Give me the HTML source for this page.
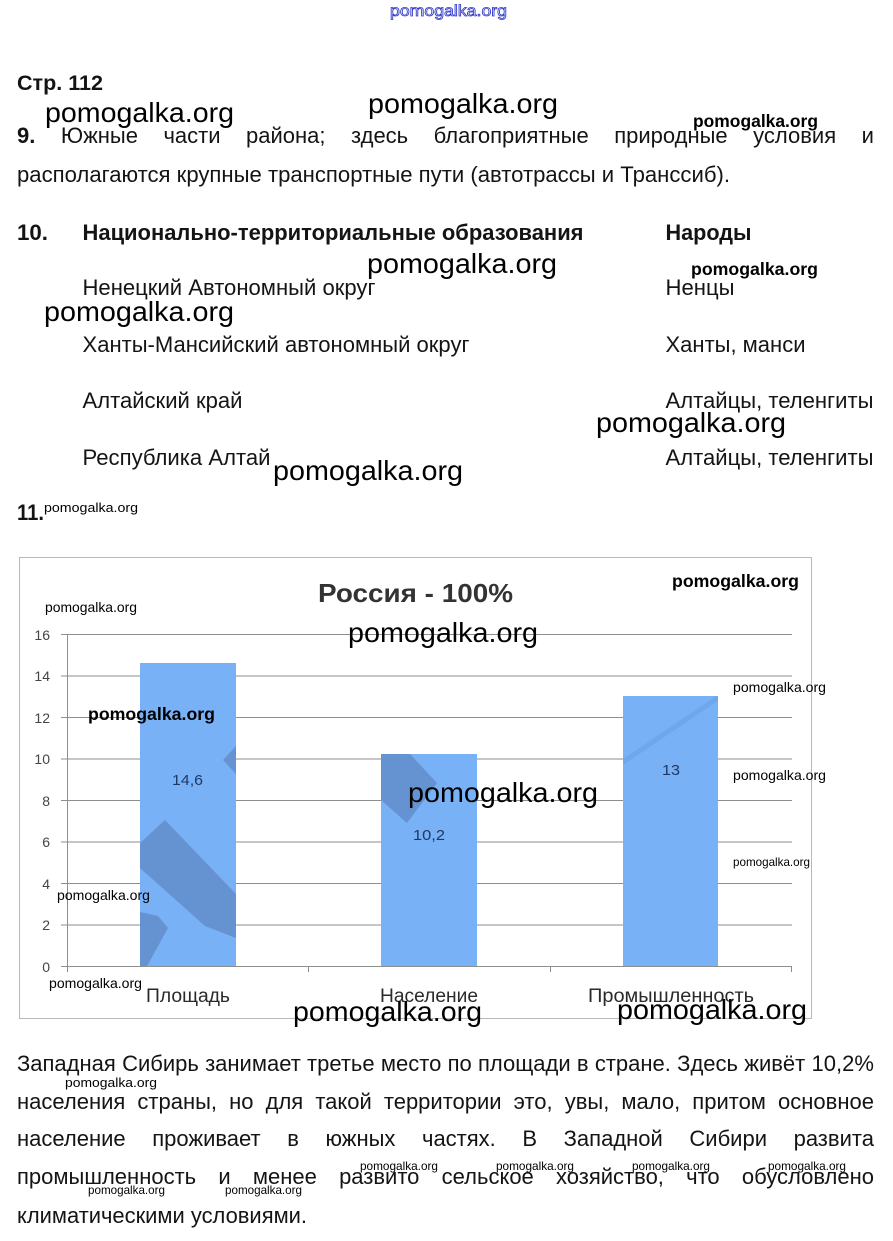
<!DOCTYPE html>
<html>
<head>
<meta charset="utf-8">
<style>
  html,body{margin:0;padding:0;background:#fff;}
  body{width:893px;height:1241px;position:relative;overflow:hidden;
       font-family:"Liberation Sans","DejaVu Sans",sans-serif;color:#141414;}
  svg{position:absolute;left:0;top:0;}
  .j{position:absolute;left:17px;width:857px;height:22px;line-height:22px;font-size:22px;
     display:flex;justify-content:space-between;white-space:nowrap;color:#141414;}
  .j b{font-weight:bold;}
</style>
</head>
<body>
<svg width="893" height="1241" viewBox="0 0 893 1241" xmlns="http://www.w3.org/2000/svg" font-family="Liberation Sans, DejaVu Sans, sans-serif">
  <!-- top blue watermark -->
  <text x="390" y="16" font-size="16" fill="none" stroke="#2c36c8" stroke-width="0.8" textLength="117" lengthAdjust="spacingAndGlyphs">pomogalka.org</text>

  <!-- Header -->
  <text x="17" y="90" font-size="21" font-weight="bold" fill="#141414" textLength="86" lengthAdjust="spacingAndGlyphs">Стр. 112</text>

  <!-- Section 9 line 2 -->
  <text x="17" y="182" font-size="22" fill="#141414" textLength="713" lengthAdjust="spacingAndGlyphs">располагаются крупные транспортные пути (автотрассы и Транссиб).</text>

  <!-- Section 10 -->
  <text x="17" y="240" font-size="22" font-weight="bold" fill="#141414" textLength="31" lengthAdjust="spacingAndGlyphs">10.</text>
  <text x="82.5" y="240" font-size="22" font-weight="bold" fill="#141414" textLength="501" lengthAdjust="spacingAndGlyphs">Национально-территориальные образования</text>
  <text x="665.5" y="240" font-size="22" font-weight="bold" fill="#141414" textLength="86" lengthAdjust="spacingAndGlyphs">Народы</text>

  <text x="82.5" y="295" font-size="22" fill="#141414" textLength="293" lengthAdjust="spacingAndGlyphs">Ненецкий Автономный округ</text>
  <text x="665.5" y="295" font-size="22" fill="#141414" textLength="69" lengthAdjust="spacingAndGlyphs">Ненцы</text>

  <text x="82.5" y="352" font-size="22" fill="#141414" textLength="387" lengthAdjust="spacingAndGlyphs">Ханты-Мансийский автономный округ</text>
  <text x="665.5" y="352" font-size="22" fill="#141414" textLength="140" lengthAdjust="spacingAndGlyphs">Ханты, манси</text>

  <text x="82.5" y="408" font-size="22" fill="#141414" textLength="160" lengthAdjust="spacingAndGlyphs">Алтайский край</text>
  <text x="665.5" y="408" font-size="22" fill="#141414" textLength="208" lengthAdjust="spacingAndGlyphs">Алтайцы, теленгиты</text>

  <text x="82.5" y="465" font-size="22" fill="#141414" textLength="188" lengthAdjust="spacingAndGlyphs">Республика Алтай</text>
  <text x="665.5" y="465" font-size="22" fill="#141414" textLength="208" lengthAdjust="spacingAndGlyphs">Алтайцы, теленгиты</text>

  <text x="17" y="520" font-size="22" font-weight="bold" fill="#141414" textLength="27" lengthAdjust="spacingAndGlyphs">11.</text>

  <!-- Watermarks top part -->
  <g fill="#000">
    <text x="45" y="122" font-size="28" textLength="189" lengthAdjust="spacingAndGlyphs">pomogalka.org</text>
    <text x="368" y="113" font-size="28" textLength="190" lengthAdjust="spacingAndGlyphs">pomogalka.org</text>
    <text x="693" y="127" font-size="17.5" font-weight="bold" textLength="125" lengthAdjust="spacingAndGlyphs">pomogalka.org</text>
    <text x="367" y="273" font-size="28" textLength="190" lengthAdjust="spacingAndGlyphs">pomogalka.org</text>
    <text x="691" y="275" font-size="17.5" font-weight="bold" textLength="127" lengthAdjust="spacingAndGlyphs">pomogalka.org</text>
    <text x="44" y="321" font-size="28" textLength="190" lengthAdjust="spacingAndGlyphs">pomogalka.org</text>
    <text x="596" y="432" font-size="28" textLength="190" lengthAdjust="spacingAndGlyphs">pomogalka.org</text>
    <text x="273" y="480" font-size="28" textLength="190" lengthAdjust="spacingAndGlyphs">pomogalka.org</text>
    <text x="44" y="512" font-size="13" textLength="94" lengthAdjust="spacingAndGlyphs">pomogalka.org</text>
  </g>

  <!-- Chart -->
  <rect x="19.5" y="557.5" width="792" height="461" fill="#fff" stroke="#b8b8b8" stroke-width="1"/>
  <g stroke="#8e8e8e" stroke-width="1">
    <line x1="61" y1="634.5" x2="792" y2="634.5"/>
    <line x1="61" y1="676" x2="792" y2="676"/>
    <line x1="61" y1="717.5" x2="792" y2="717.5"/>
    <line x1="61" y1="759" x2="792" y2="759"/>
    <line x1="61" y1="800.5" x2="792" y2="800.5"/>
    <line x1="61" y1="842" x2="792" y2="842"/>
    <line x1="61" y1="883.5" x2="792" y2="883.5"/>
    <line x1="61" y1="925" x2="792" y2="925"/>
    <line x1="61" y1="966.5" x2="792" y2="966.5"/>
    <line x1="67.5" y1="634" x2="67.5" y2="972"/>
    <line x1="308.5" y1="966" x2="308.5" y2="972"/>
    <line x1="550.5" y1="966" x2="550.5" y2="972"/>
    <line x1="791.5" y1="966" x2="791.5" y2="972"/>
  </g>
  <g font-size="14" fill="#444" text-anchor="end">
    <text x="50" y="640">16</text>
    <text x="50" y="681">14</text>
    <text x="50" y="723">12</text>
    <text x="50" y="764">10</text>
    <text x="50" y="806">8</text>
    <text x="50" y="847">6</text>
    <text x="50" y="889">4</text>
    <text x="50" y="930">2</text>
    <text x="50" y="972">0</text>
  </g>

  <!-- Bars -->
  <defs>
    <clipPath id="c1"><rect x="140" y="663" width="96" height="303"/></clipPath>
    <clipPath id="c2"><rect x="381" y="754" width="96" height="212"/></clipPath>
    <clipPath id="c3"><rect x="623" y="696" width="95" height="270"/></clipPath>
  </defs>
  <rect x="140" y="663" width="96" height="303" fill="#79b1f6"/>
  <rect x="381" y="754" width="96" height="212" fill="#79b1f6"/>
  <rect x="623" y="696" width="95" height="270" fill="#79b1f6"/>
  <g clip-path="url(#c1)" fill="#6592d0">
    <polygon points="236,746 223,760 236,774"/>
    <polygon points="140,843 165,820 236,894 236,938 205,926 140,868"/>
    <polygon points="140,912 158,916 168,928 146,968 140,968"/>
  </g>
  <g clip-path="url(#c2)" fill="#6592d0">
    <polygon points="381,754 410,754 437,783 407,823 381,800"/>
  </g>
  <g clip-path="url(#c3)">
    <line x1="623" y1="762" x2="719" y2="697" stroke="#6a9fe4" stroke-width="5" stroke-opacity="0.6"/>
  </g>

  <!-- Data labels -->
  <g font-size="15" fill="#1f3864">
    <text x="172" y="785" textLength="31" lengthAdjust="spacingAndGlyphs">14,6</text>
    <text x="413" y="840" textLength="32" lengthAdjust="spacingAndGlyphs">10,2</text>
    <text x="662" y="775" textLength="18" lengthAdjust="spacingAndGlyphs">13</text>
  </g>

  <!-- Category labels -->
  <g font-size="19" fill="#2a2a2a">
    <text x="146" y="1002" textLength="84" lengthAdjust="spacingAndGlyphs">Площадь</text>
    <text x="380" y="1002" textLength="98" lengthAdjust="spacingAndGlyphs">Население</text>
    <text x="588" y="1002" textLength="166" lengthAdjust="spacingAndGlyphs">Промышленность</text>
  </g>

  <!-- Title -->
  <text x="318" y="602" font-size="26" font-weight="bold" fill="#333" textLength="195" lengthAdjust="spacingAndGlyphs">Россия - 100%</text>

  <!-- Chart watermarks -->
  <g fill="#000">
    <text x="45" y="612" font-size="14" textLength="92" lengthAdjust="spacingAndGlyphs">pomogalka.org</text>
    <text x="672" y="587" font-size="17.5" font-weight="bold" textLength="127" lengthAdjust="spacingAndGlyphs">pomogalka.org</text>
    <text x="348" y="642" font-size="28" textLength="190" lengthAdjust="spacingAndGlyphs">pomogalka.org</text>
    <text x="88" y="720" font-size="17.5" font-weight="bold" textLength="127" lengthAdjust="spacingAndGlyphs">pomogalka.org</text>
    <text x="733" y="692" font-size="14" textLength="93" lengthAdjust="spacingAndGlyphs">pomogalka.org</text>
    <text x="733" y="780" font-size="14" textLength="93" lengthAdjust="spacingAndGlyphs">pomogalka.org</text>
    <text x="408" y="802" font-size="28" textLength="190" lengthAdjust="spacingAndGlyphs">pomogalka.org</text>
    <text x="733" y="866" font-size="12" textLength="77" lengthAdjust="spacingAndGlyphs">pomogalka.org</text>
    <text x="57" y="900" font-size="14" textLength="93" lengthAdjust="spacingAndGlyphs">pomogalka.org</text>
    <text x="49" y="988" font-size="14" textLength="93" lengthAdjust="spacingAndGlyphs">pomogalka.org</text>
    <text x="293" y="1021" font-size="28" textLength="189" lengthAdjust="spacingAndGlyphs">pomogalka.org</text>
    <text x="617" y="1019" font-size="28" textLength="190" lengthAdjust="spacingAndGlyphs">pomogalka.org</text>
  </g>

  <!-- Bottom paragraph last line -->
  <text x="17" y="1223" font-size="22" fill="#141414" textLength="290" lengthAdjust="spacingAndGlyphs">климатическими условиями.</text>

  <!-- Bottom watermarks -->
  <g fill="#000" font-size="12">
    <text x="65" y="1087" font-size="13" textLength="92" lengthAdjust="spacingAndGlyphs">pomogalka.org</text>
    <text x="360" y="1170" textLength="78" lengthAdjust="spacingAndGlyphs">pomogalka.org</text>
    <text x="496" y="1170" textLength="78" lengthAdjust="spacingAndGlyphs">pomogalka.org</text>
    <text x="632" y="1170" textLength="78" lengthAdjust="spacingAndGlyphs">pomogalka.org</text>
    <text x="768" y="1170" textLength="78" lengthAdjust="spacingAndGlyphs">pomogalka.org</text>
    <text x="88" y="1194" textLength="77" lengthAdjust="spacingAndGlyphs">pomogalka.org</text>
    <text x="225" y="1194" textLength="77" lengthAdjust="spacingAndGlyphs">pomogalka.org</text>
  </g>
</svg>

<!-- Justified lines -->
<div class="j" style="top:125.4px;"><span><b>9.</b></span><span>Южные</span><span>части</span><span>района;</span><span>здесь</span><span>благоприятные</span><span>природные</span><span>условия</span><span>и</span></div>

<div class="j" style="top:1053.4px;"><span>Западная</span><span>Сибирь</span><span>занимает</span><span>третье</span><span>место</span><span>по</span><span>площади</span><span>в</span><span>стране.</span><span>Здесь</span><span>живёт</span><span>10,2%</span></div>
<div class="j" style="top:1091.4px;"><span>населения</span><span>страны,</span><span>но</span><span>для</span><span>такой</span><span>территории</span><span>это,</span><span>увы,</span><span>мало,</span><span>притом</span><span>основное</span></div>
<div class="j" style="top:1128.4px;"><span>население</span><span>проживает</span><span>в</span><span>южных</span><span>частях.</span><span>В</span><span>Западной</span><span>Сибири</span><span>развита</span></div>
<div class="j" style="top:1166.4px;"><span>промышленность</span><span>и</span><span>менее</span><span>развито</span><span>сельское</span><span>хозяйство,</span><span>что</span><span>обусловлено</span></div>
</body>
</html>
